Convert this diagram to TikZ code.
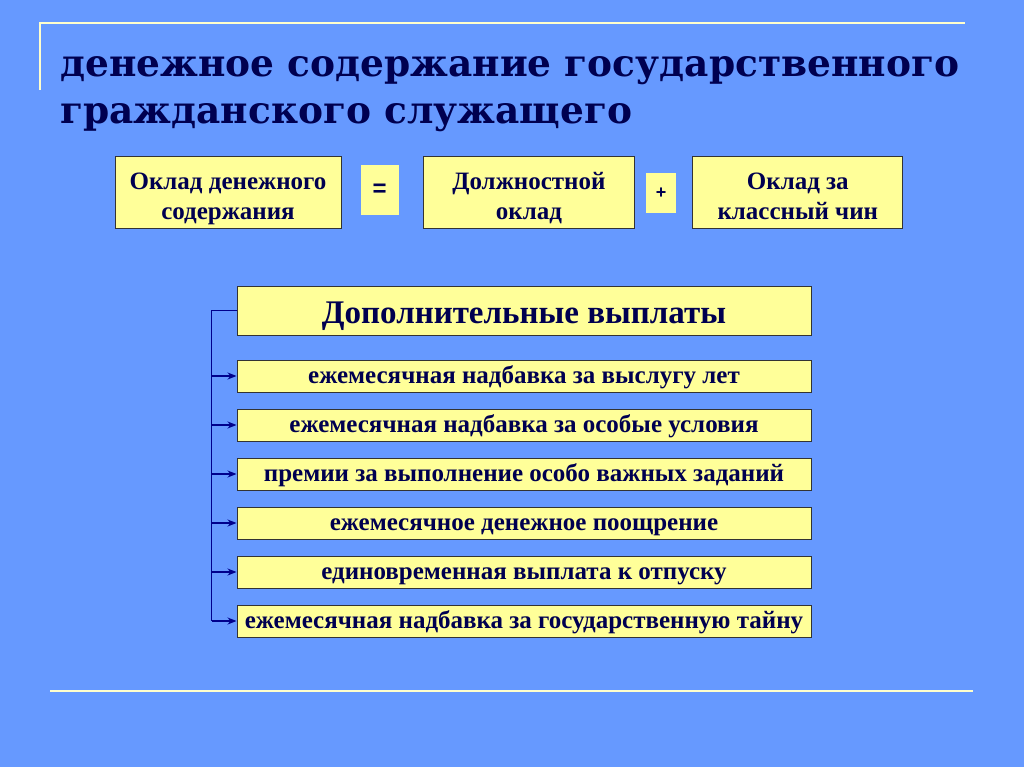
\documentclass[tikz,border=0pt]{standalone}
\usepackage{fontspec}
\setmainfont{Liberation Serif}
\newfontfamily\titlefont{DejaVu Serif}
\newfontfamily\signfont{Liberation Sans}
\usetikzlibrary{positioning, arrows, arrows.meta}
\definecolor{slideblue}{RGB}{102,153,255}
\definecolor{boxyellow}{RGB}{255,255,153}
\definecolor{rulecream}{RGB}{255,255,204}
\definecolor{inkblue}{RGB}{0,0,80}
\definecolor{linkblue}{RGB}{0,0,140}
\tikzstyle{salary} = [rectangle, minimum height=72pt, text centered, align=center, draw=black!80, line width=1pt, fill=boxyellow, text=inkblue, font=\bfseries\fontsize{25}{29}\selectfont]
\tikzstyle{sign} = [rectangle, text centered, fill=boxyellow, text=inkblue, font=\signfont\bfseries\fontsize{24}{26}\selectfont]
\tikzstyle{extra} = [rectangle, minimum width=574pt, minimum height=32pt, text height=17pt, text depth=2pt, text centered, draw=black!80, line width=1pt, fill=boxyellow, text=inkblue, font=\bfseries\fontsize{25}{26}\selectfont]
\tikzstyle{arrow} = [line width=1.2pt, draw=linkblue, -{Stealth[length=9pt, width=7pt]}]
\tikzstyle{rule} = [line width=2pt, draw=rulecream]

\begin{document}
\begin{tikzpicture}
[x=1pt, y=-1pt, node distance=17pt]

\fill[slideblue] (0,0) rectangle (1024,767);
\useasboundingbox (0,0) rectangle (1024,767);

% frame lines
\draw[rule] (40,90) -- (40,23) -- (965,23);
\draw[rule] (50,691) -- (973,691);

\node (title) [anchor=north west, align=left, text=inkblue, inner sep=0pt, font=\titlefont\bfseries\fontsize{37.5}{47}\selectfont] at (60,56) {денежное содержание государственного\\гражданского служащего};

% salary formula
\node (base) [salary, minimum width=226pt, text height=52pt, text depth=0pt] at (228,193) {Оклад денежного\\содержания};
\node (eq) [sign, minimum width=38pt, minimum height=50pt, right=19pt of base, yshift=3pt] {=};
\node (post) [salary, minimum width=211pt, text height=52pt, text depth=0pt, right=24pt of eq, yshift=-3pt] {Должностной\\оклад};
\node (plus) [sign, minimum width=30pt, minimum height=40pt, right=11pt of post, font=\signfont\bfseries\fontsize{18}{20}\selectfont] {+};
\node (rank) [salary, minimum width=210pt, text height=52pt, text depth=0pt, right=16pt of plus] {Оклад за\\классный чин};

% additional payments
\node (extras) [extra, minimum height=49pt, text height=30pt, text depth=5pt, font=\bfseries\fontsize{33}{36}\selectfont] at (524,310.5) {Дополнительные выплаты};
\node (p1) [extra, below=24pt of extras] {ежемесячная надбавка за выслугу лет};
\node (p2) [extra, below of=p1, node distance=49pt] {ежемесячная надбавка за особые условия};
\node (p3) [extra, below of=p2, node distance=49pt] {премии за выполнение особо важных заданий};
\node (p4) [extra, below of=p3, node distance=49pt] {ежемесячное денежное поощрение};
\node (p5) [extra, below of=p4, node distance=49pt] {единовременная выплата к отпуску};
\node (p6) [extra, below of=p5, node distance=49pt] {ежемесячная надбавка за государственную тайну};

\coordinate (trunk) at ([xshift=-25pt]extras.west);
\draw [line width=1.2pt, draw=linkblue] (extras.west) -- (trunk) -- (trunk |- p6.west);
\foreach \p in {p1,p2,p3,p4,p5,p6}
  \draw [arrow] (trunk |- \p.west) -- (\p.west);

\end{tikzpicture}
\end{document}
